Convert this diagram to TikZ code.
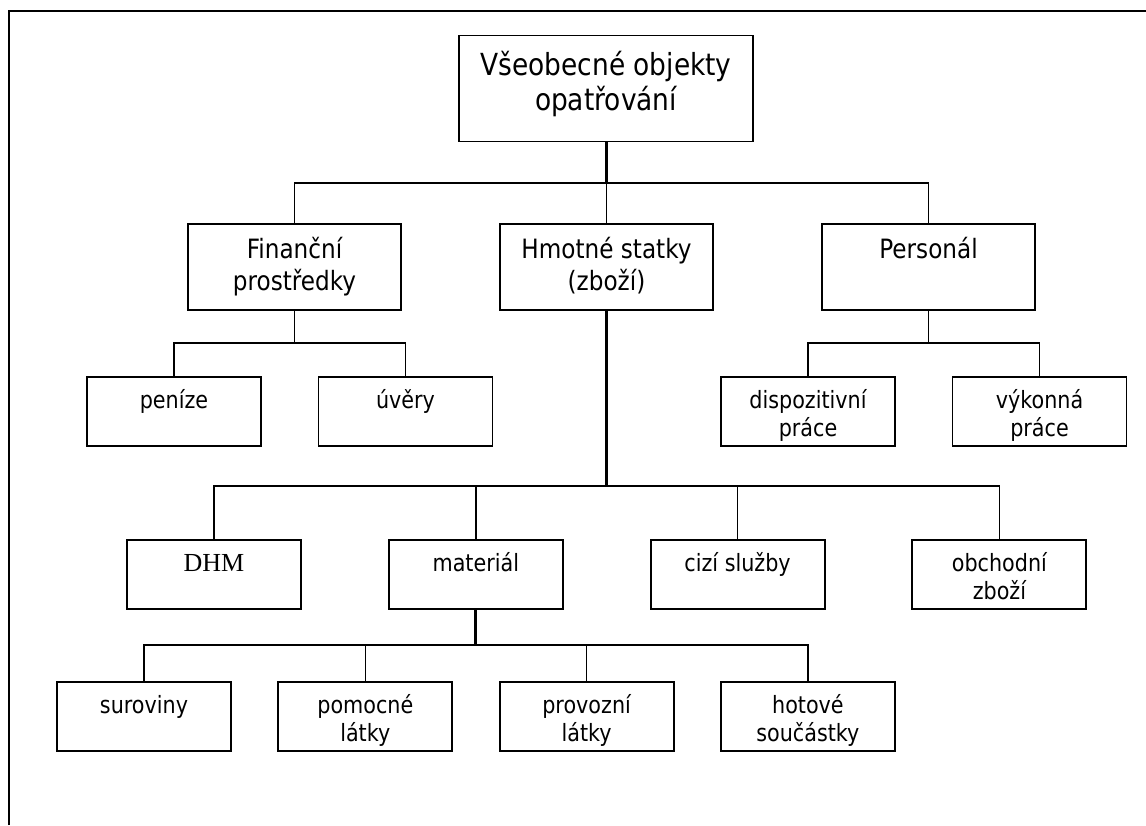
\documentclass[tikz,border=0pt]{standalone}
\usepackage{fontspec}
\setmainfont{DejaVu Sans}[FakeStretch=0.87]
\newfontfamily\timesfont{Liberation Serif}

\begin{document}
\begin{tikzpicture}[x=1pt,y=-1pt,
  box/.style={draw,line width=1.9pt,inner sep=0pt,align=center},
  topbox/.style={box,minimum width=294pt,text height=75pt,text depth=31pt,
    font=\fontsize{30.4}{35}\selectfont},
  midbox/.style={box,minimum width=213pt,text height=34pt,text depth=52pt,
    font=\fontsize{26.6}{32}\selectfont},
  midtwo/.style={midbox,text height=66pt,text depth=20pt},
  leafbox/.style={box,minimum width=174pt,text height=31pt,text depth=38pt,
    font=\fontsize{23.8}{28}\selectfont},
  leaftwo/.style={leafbox,text height=59pt,text depth=10pt},
  link/.style={line width=1.6pt},
  stem/.style={line width=3pt}]

\useasboundingbox (0,0) rectangle (1146,825);
\draw[line width=1.8pt] (9,825) -- (9,11) -- (1146,11);

\node[topbox] (root) at (606,88.5) {Všeobecné objekty\\opatřování};

\node[midtwo] (fin) at (294.5,267) {Finanční\\prostředky};
\node[midtwo] (hmot) at (606.5,267) {Hmotné statky\\(zboží)};
\node[midbox] (pers) at (928.5,267) {Personál};

\node[leafbox] (pen) at (174,411.5) {peníze};
\node[leafbox] (uve) [right of=pen,node distance=231.5pt] {úvěry};
\node[leaftwo] (disp) at (808,411.5) {dispozitivní\\práce};
\node[leaftwo] (vyk) [right of=disp,node distance=231.5pt] {výkonná\\práce};

\node[leafbox] (dhm) at (214,574.5) {\timesfont\fontsize{26}{30}\selectfont DHM};
\node[leafbox] (mat) [right of=dhm,node distance=261.8pt] {materiál};
\node[leafbox] (cizi) [right of=mat,node distance=261.8pt] {cizí služby};
\node[leaftwo] (obch) [right of=cizi,node distance=261.8pt] {obchodní\\zboží};

\node[leafbox] (sur) at (144,716.5) {suroviny};
\node[leaftwo] (pom) [right of=sur,node distance=221.3pt] {pomocné\\látky};
\node[leaftwo] (prov) [right of=pom,node distance=221.3pt] {provozní\\látky};
\node[leaftwo] (hot) [right of=prov,node distance=221.3pt] {hotové\\součástky};

% sběrnice
\coordinate (bus1) at (0,183);
\coordinate (bus2) at (0,343);
\coordinate (bus3) at (0,486);
\coordinate (bus4) at (0,645);

\draw[stem] (root.south) -- (root.south |- bus1);
\draw[link] (fin.north) |- (bus1 -| pers.north) -- (pers.north);
\draw[link] (hmot.north) -- (hmot.north |- bus1);

\draw[link] (fin.south) -- (fin.south |- bus2);
\draw[link] (pen.north) |- (bus2 -| uve.north) -- (uve.north);
\draw[link] (pers.south) -- (pers.south |- bus2);
\draw[link] (disp.north) |- (bus2 -| vyk.north) -- (vyk.north);

\draw[stem] (hmot.south) -- (hmot.south |- bus3);
\draw[link] (dhm.north) |- (bus3 -| obch.north) -- (obch.north);
\draw[link] (mat.north) -- (mat.north |- bus3);
\draw[link] (cizi.north) -- (cizi.north |- bus3);

\draw[stem] (mat.south) -- (mat.south |- bus4);
\draw[link] (sur.north) |- (bus4 -| hot.north) -- (hot.north);
\draw[link] (pom.north) -- (pom.north |- bus4);
\draw[link] (prov.north) -- (prov.north |- bus4);

\end{tikzpicture}
\end{document}
